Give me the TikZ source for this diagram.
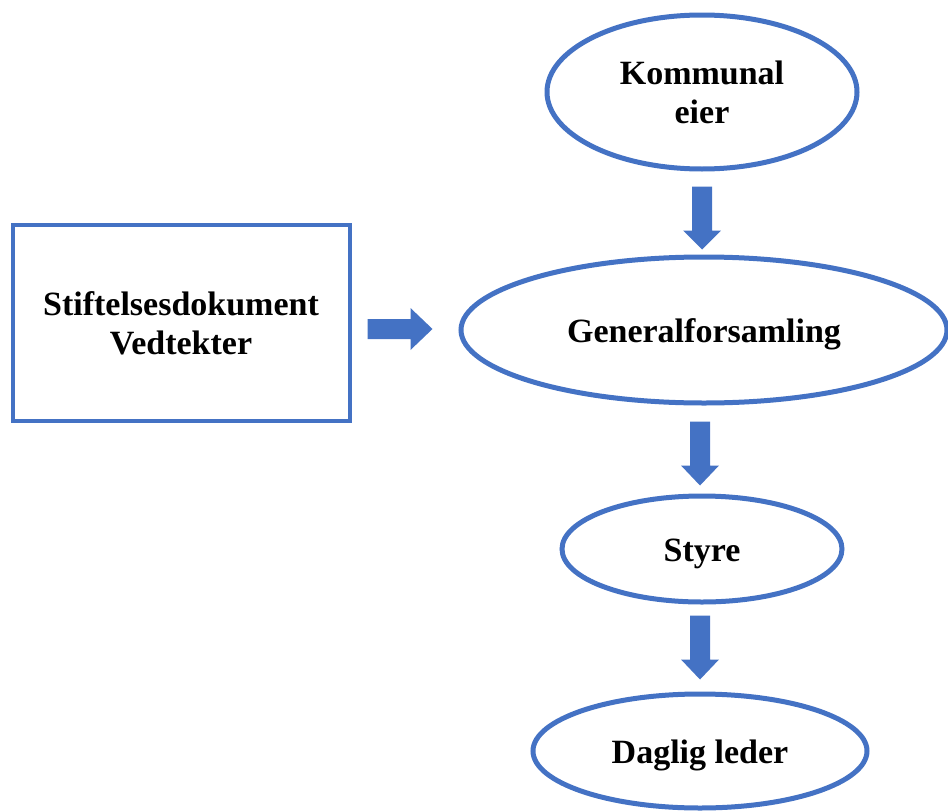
\documentclass[tikz,border=0pt]{standalone}
\usepackage{fontspec}
\setmainfont{Liberation Serif}
\usetikzlibrary{shapes.geometric,calc}
\definecolor{orgblue}{RGB}{68,114,196}
\tikzset{
  oval/.style={ellipse, draw=orgblue, line width=5pt, fill=white, inner sep=0pt,
    font=\fontsize{34}{39}\selectfont\bfseries, align=center},
  oneline/.style={text height=32pt, text depth=8pt},
  box/.style={rectangle, draw=orgblue, line width=4pt, fill=white, inner sep=0pt,
    font=\fontsize{34}{39}\selectfont\bfseries, align=center},
  blockarrow/.style={fill=orgblue, draw=none}
}
% block arrow pointing down: #1 = top centre of shaft, #2 = shaft length, #3 = head length
\newcommand{\downblock}[3]{%
  \fill[blockarrow] ($#1+(-10,0)$) -- ($#1+(10,0)$) -- ($#1+(10,#2)$) -- ($#1+(19,#2)$)
    -- ($#1+(0,#2+#3)$) -- ($#1+(-19,#2)$) -- ($#1+(-10,#2)$) -- cycle;}
\begin{document}
\begin{tikzpicture}[x=1pt,y=-1pt]
\useasboundingbox (0,0) rectangle (948,811);

\node[oval, minimum width=310pt, minimum height=154pt] (eier) at (702,92) {Kommunal\\eier};
\node[oval, oneline, minimum width=486pt, minimum height=146pt] (gf) at (704,330) {Generalforsamling};
\node[oval, oneline, minimum width=280pt, minimum height=106pt] (styre) at (702,549) {Styre};
\node[oval, oneline, minimum width=334pt, minimum height=114pt] (leder) at (700,751) {Daglig leder};
\node[box, minimum width=337pt, minimum height=196pt] (vedt) at (181,323) {Stiftelsesdokument\\Vedtekter};

% connectors between the levels
\coordinate (a1) at ($(eier.south)+(0,15)$);
\downblock{(a1)}{44}{19}
\coordinate (a2) at ($(gf.south)+(-4,16)$);
\downblock{(a2)}{44}{20}
\coordinate (a3) at ($(styre.south)+(-2,11)$);
\downblock{(a3)}{44}{20}

% arrow from the founding documents to the general assembly
\coordinate (r1) at ($(vedt.east)+(16,6)$);
\fill[blockarrow] ($(r1)+(0,-10)$) -- ($(r1)+(43,-10)$) -- ($(r1)+(43,-21)$) -- ($(r1)+(65,0)$)
  -- ($(r1)+(43,21)$) -- ($(r1)+(43,10)$) -- ($(r1)+(0,10)$) -- cycle;
\end{tikzpicture}
\end{document}
